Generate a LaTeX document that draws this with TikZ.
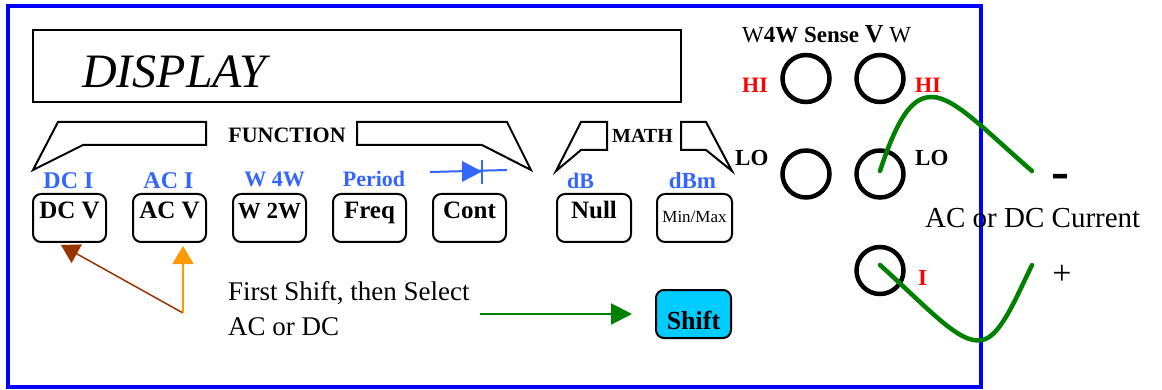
\documentclass[tikz,border=0pt]{standalone}
\usepackage{fontspec}
\setmainfont{Liberation Serif}
\newfontfamily\dashfont{DejaVu Sans}
\usetikzlibrary{arrows.meta}
\definecolor{lblue}{HTML}{3366FF}
\definecolor{brownarrow}{HTML}{993300}
\definecolor{orangearrow}{HTML}{FF9900}
\definecolor{wiregreen}{HTML}{008000}
\definecolor{shiftcyan}{HTML}{00CCFF}
\definecolor{panelblue}{HTML}{0000FF}
\newcommand\fsz[1]{\fontsize{#1}{#1}\selectfont}
\begin{document}
\begin{tikzpicture}[x=1pt,y=-1pt,
  btn/.style={draw, line width=2pt, rounded corners=8pt, fill=white,
    minimum width=73pt, minimum height=48pt, inner sep=0pt,
    text height=17pt, text depth=15pt, font=\fsz{25}\bfseries},
  lbl/.style={inner sep=0pt, anchor=base},
  bluelbl/.style={lbl, text=lblue, font=\fsz{24}\bfseries},
  redlbl/.style={lbl, anchor=base west, text=red, font=\fsz{22}\bfseries},
  blacklbl/.style={lbl, anchor=base west, font=\fsz{23}\bfseries},
  jack/.style={circle, draw, line width=4.5pt, minimum size=47pt, inner sep=0pt},
  bracket/.style={draw, line width=2pt, line join=miter},
  wire/.style={draw=wiregreen, line width=4.5pt, line cap=round},
  pointer/.style={line width=1.5pt, -{Triangle[length=18pt,width=21pt]}}
]
\useasboundingbox (0,0) rectangle (1162,390);

% panel
\draw[panelblue, line width=3.5pt] (8,6) rectangle (981,387);

% display
\node[draw, line width=2pt, minimum width=648pt, minimum height=72pt, inner sep=0pt] (display) at (357,66) {};
\node[lbl, anchor=base west, font=\fsz{48}\itshape] (disptext) at (82,88) {DISPLAY};

% FUNCTION bracket
\draw[bracket] (33,170) -- (58,122) -- (206,122) -- (206,145) -- (83,145) -- cycle;
\draw[bracket] (357,122) -- (507,122) -- (531,170) -- (482,145) -- (357,145) -- cycle;
\node[lbl, font=\fsz{22}\bfseries] (function) at (287,143) {FUNCTION};

% MATH bracket
\draw[bracket] (556,171) -- (581,122) -- (607,122) -- (607,150) -- (581,150) -- cycle;
\draw[bracket] (681,122) -- (706,122) -- (732,171) -- (706,150) -- (681,150) -- cycle;
\node[lbl, font=\fsz{20}\bfseries] (math) at (642.5,143) {MATH};

% shifted labels
\node[bluelbl] (dci) at (68.5,189) {DC I};
\node[bluelbl] (aci) at (168.5,189) {AC I};
\node[bluelbl, font=\fsz{22}\bfseries] (ohm4) at (274.5,187) {W 4W};
\node[bluelbl, font=\fsz{22}\bfseries] (period) at (374,187) {Period};
\node[bluelbl, font=\fsz{22}\bfseries] (db) at (580.5,189) {dB};
\node[bluelbl, font=\fsz{23}\bfseries] (dbm) at (692.5,189) {dBm};

% diode symbol
\draw[lblue, line width=2pt] (430,172) -- (507,170);
\fill[lblue] (462,161) -- (482,171.5) -- (462,182) -- cycle;
\draw[lblue, line width=2pt] (482,160) -- (482,184);

\coordinate (src) at (183,313);
\coordinate (gstart) at (480,314);

% buttons
\node[btn] (dcv) at (69.5,218) {DC V};
\node[btn] (acv) at (169.5,218) {AC V};
\node[btn, font=\fsz{23}\bfseries] (ohm2) at (269.5,218) {W 2W};
\node[btn] (freq) at (369.5,218) {Freq};
\node[btn] (cont) at (469.5,218) {Cont};
\node[btn, minimum width=74pt] (null) at (594,218) {Null};
\node[btn, minimum width=75pt, font=\fsz{17}, text height=12pt, text depth=2pt] (minmax) at (694.5,218) {Min/Max};
\node[btn, fill=shiftcyan, minimum width=75pt, font=\fsz{26}\bfseries, text height=30pt, text depth=0pt] (shift) at (693.5,314) {Shift};

\draw[pointer, brownarrow] (src) -- ([xshift=-8.5pt,yshift=-2pt]dcv.south);
\draw[pointer, orangearrow] (src) -- ([xshift=13.5pt,yshift=-3pt]acv.south);
\draw[wiregreen, line width=2pt, -{Triangle[length=21pt,width=21pt]}] (gstart) -- ([xshift=-23pt]shift.west);

\node[anchor=base west, inner sep=0pt, align=left, font=\fontsize{27}{35}\selectfont] (note) at (228,335) {First Shift, then Select\\AC or DC};

% terminals
\node[lbl, anchor=base west, font=\fsz{23}] (sense) at (742,43) {W\textbf{4W Sense} {\fsz{26}\textbf{V}} W};
\node[jack] (hi4) at (806,78.5) {};
\node[jack] (hi) at (880,78.5) {};
\node[jack] (lo4) at (806,174) {};
\node[jack] (lo) at (880,174) {};
\node[jack] (ijack) at (880,270.5) {};
\node[redlbl] (hil) at (742,93) {HI};
\node[redlbl] (hir) at (915,93) {HI};
\node[blacklbl] (lol) at (735,166) {LO};
\node[blacklbl] (lor) at (915,166) {LO};
\node[redlbl, font=\fsz{23}\bfseries] (ilbl) at (918,285) {I};

% current source leads
\coordinate (minusend) at (1032,171);
\coordinate (plusend) at (1032,265);
\draw[wire] ([yshift=3pt]lo.center) .. controls (900,110) and (915,97) .. (932,97) .. controls (955,97) and (990,135) .. (minusend);
\draw[wire] ([yshift=5.5pt]ijack.center) .. controls (930,310) and (960,345) .. (982,340) .. controls (1000,337) and (1015,300) .. (plusend);

\node[lbl, anchor=base west, font=\fsz{29}] (current) at (925,228) {AC or DC Current};
\node[lbl, anchor=base west, font=\fsz{36}\dashfont\bfseries] (minus) at (1051,187) {–};
\node[lbl, font=\fsz{34}] (plus) at (1062,284) {+};
\end{tikzpicture}
\end{document}
